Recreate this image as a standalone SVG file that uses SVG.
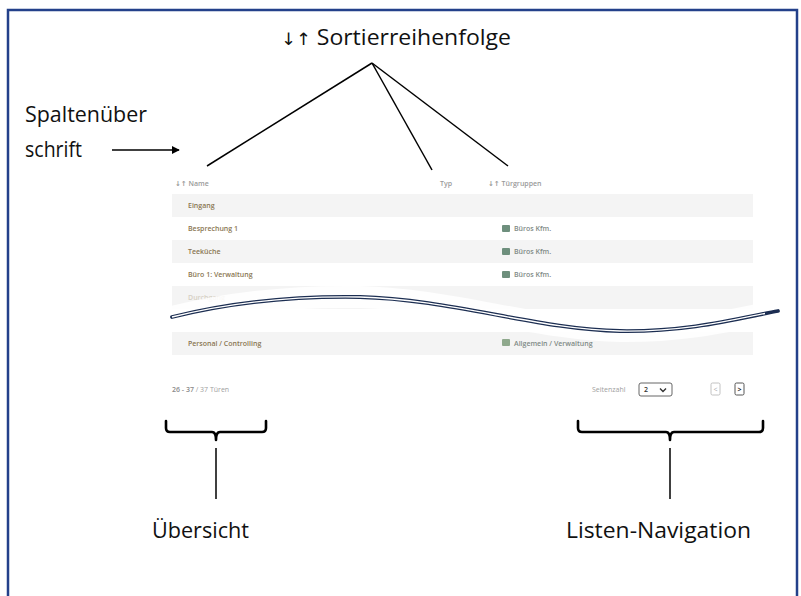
<svg xmlns="http://www.w3.org/2000/svg" width="801" height="596" viewBox="0 0 801 596">
<defs>
<style>
.lbl{font-family:"Open Sans","Noto Sans",sans-serif;font-size:22px;fill:#111}
.ar{font-family:"DejaVu Sans",sans-serif}
.th{font-family:"Open Sans","Noto Sans",sans-serif;font-size:7px;font-weight:600;fill:#9a9a9a}
.td{font-family:"Open Sans","Noto Sans",sans-serif;font-size:7px;font-weight:600;fill:#8a7652}
.tg{font-family:"Open Sans","Noto Sans",sans-serif;font-size:7px;font-weight:600;fill:#7f8a86}
.ft{font-family:"Open Sans","Noto Sans",sans-serif;font-size:7px;fill:#a0a0a0}
.odd{fill:#f4f4f4}
.even{fill:#ffffff}
.conn{stroke:#000;stroke-width:1.5;fill:none}
.brace{stroke:#000;stroke-width:2.6;fill:none;stroke-linecap:round;stroke-linejoin:round}
.sq{fill:#6e8f7d}
</style>
<marker id="ah" viewBox="0 0 10 10" refX="9" refY="5" markerWidth="5.5" markerHeight="5.5" orient="auto" markerUnits="strokeWidth">
<path d="M0,0 L10,5 L0,10 Z" fill="#000"/>
</marker>
</defs>
<rect width="801" height="596" fill="#fff"/>
<rect x="8" y="10" width="789" height="620" fill="none" stroke="#23408a" stroke-width="2.5"/>

<g id="title">
<text class="lbl" x="281" y="45" textLength="230" lengthAdjust="spacingAndGlyphs"><tspan class="ar" style="font-size:17px">↓↑</tspan> Sortierreihenfolge</text>
</g>
<g id="spaltenueberschrift">
<text class="lbl" x="25" y="122" textLength="122" lengthAdjust="spacingAndGlyphs">Spaltenüber</text>
<text class="lbl" x="25" y="157" textLength="57" lengthAdjust="spacingAndGlyphs">schrift</text>
</g>

<g id="table">
<text class="th" x="175" y="186"><tspan class="ar">↓↑</tspan> Name</text>
<text class="th" x="440" y="186">Typ</text>
<text class="th" x="488" y="186"><tspan class="ar">↓↑</tspan> Türgruppen</text>

<rect class="odd" x="172" y="194" width="581" height="23"/>
<text class="td" x="188" y="208">Eingang</text>

<rect class="even" x="172" y="217" width="581" height="23"/>
<text class="td" x="188" y="231">Besprechung 1</text>
<rect class="sq" x="502" y="225" width="8" height="7" rx="1"/>
<text class="tg" x="514" y="231">Büros Kfm.</text>

<rect class="odd" x="172" y="240" width="581" height="23"/>
<text class="td" x="188" y="254">Teeküche</text>
<rect class="sq" x="502" y="248" width="8" height="7" rx="1"/>
<text class="tg" x="514" y="254">Büros Kfm.</text>

<rect class="even" x="172" y="263" width="581" height="23"/>
<text class="td" x="188" y="277">Büro 1: Verwaltung</text>
<rect class="sq" x="502" y="271" width="8" height="7" rx="1"/>
<text class="tg" x="514" y="277">Büros Kfm.</text>

<rect class="odd" x="172" y="286" width="581" height="23"/>
<text class="td" x="188" y="300" style="fill:#d6d0c4">Durchgang</text>

<rect class="odd" x="172" y="332" width="581" height="23"/>
<text class="td" x="188" y="346">Personal / Controlling</text>
<rect x="502" y="339" width="8" height="7" rx="1" fill="#8fa98d"/>
<text class="tg" x="514" y="346">Allgemein / Verwaltung</text>
</g>

<g id="wave">
<path d="M172,317 C240,300 300,296 360,297 C450,299 540,330 620,331 C690,332 740,318 778,311" fill="none" stroke="#fff" stroke-width="22" stroke-opacity="0.85"/>
<path d="M172,317 C240,300 300,296 360,297 C450,299 540,330 620,331 C690,332 740,318 778,311" fill="none" stroke="#1c2e52" stroke-width="3.8" stroke-linecap="round"/>
<path d="M172,317 C240,300 300,296 360,297 C450,299 540,330 620,331 C690,332 740,318 765,313.5" fill="none" stroke="#fff" stroke-width="1.3"/>
</g>

<g id="footer">
<text class="ft" x="172" y="392"><tspan style="fill:#8a8a8a;font-weight:600">26 - 37</tspan> / 37 Türen</text>
<text class="ft" x="592" y="392">Seitenzahl</text>
<rect x="639" y="383" width="33" height="13" rx="2" fill="#fff" stroke="#555" stroke-width="0.9"/>
<text class="ft" x="644" y="392" style="fill:#333;font-weight:600">2</text>
<path d="M660,388.5 L663,391.5 L666,388.5" fill="none" stroke="#333" stroke-width="1.4"/>
<rect x="711" y="383" width="9" height="12" rx="1.5" fill="#fff" stroke="#bbb" stroke-width="0.9"/>
<text class="ft" x="713.5" y="392" style="fill:#aaa">&lt;</text>
<rect x="735" y="383" width="9" height="12" rx="1.5" fill="#fff" stroke="#444" stroke-width="0.9"/>
<text class="ft" x="737.5" y="392" style="fill:#222;font-weight:700">&gt;</text>
</g>

<g id="uebersicht">
<path class="brace" d="M166,421 V428 Q166,432 170,432 H212 Q216,432 216,440 Q216,432 220,432 H262 Q266,432 266,428 V421"/>
<text class="lbl" x="152" y="538" textLength="97" lengthAdjust="spacingAndGlyphs">Übersicht</text>
</g>
<g id="listen-navigation">
<path class="brace" d="M578,421 V428 Q578,432 582,432 H666 Q670,432 670,440 Q670,432 674,432 H759 Q763,432 763,428 V421"/>
<text class="lbl" x="566" y="538" textLength="185" lengthAdjust="spacingAndGlyphs">Listen-Navigation</text>
</g>

<g id="connectors">
<line class="conn" x1="372" y1="63" x2="207" y2="166"/>
<line class="conn" x1="372" y1="63" x2="432" y2="170"/>
<line class="conn" x1="372" y1="63" x2="508" y2="166"/>
<line class="conn" x1="112" y1="150" x2="179" y2="150" stroke-width="2.4" marker-end="url(#ah)"/>
<line class="conn" x1="216" y1="448" x2="216" y2="499" stroke-width="2"/>
<line class="conn" x1="670" y1="448" x2="670" y2="499" stroke-width="2"/>
</g>
</svg>
